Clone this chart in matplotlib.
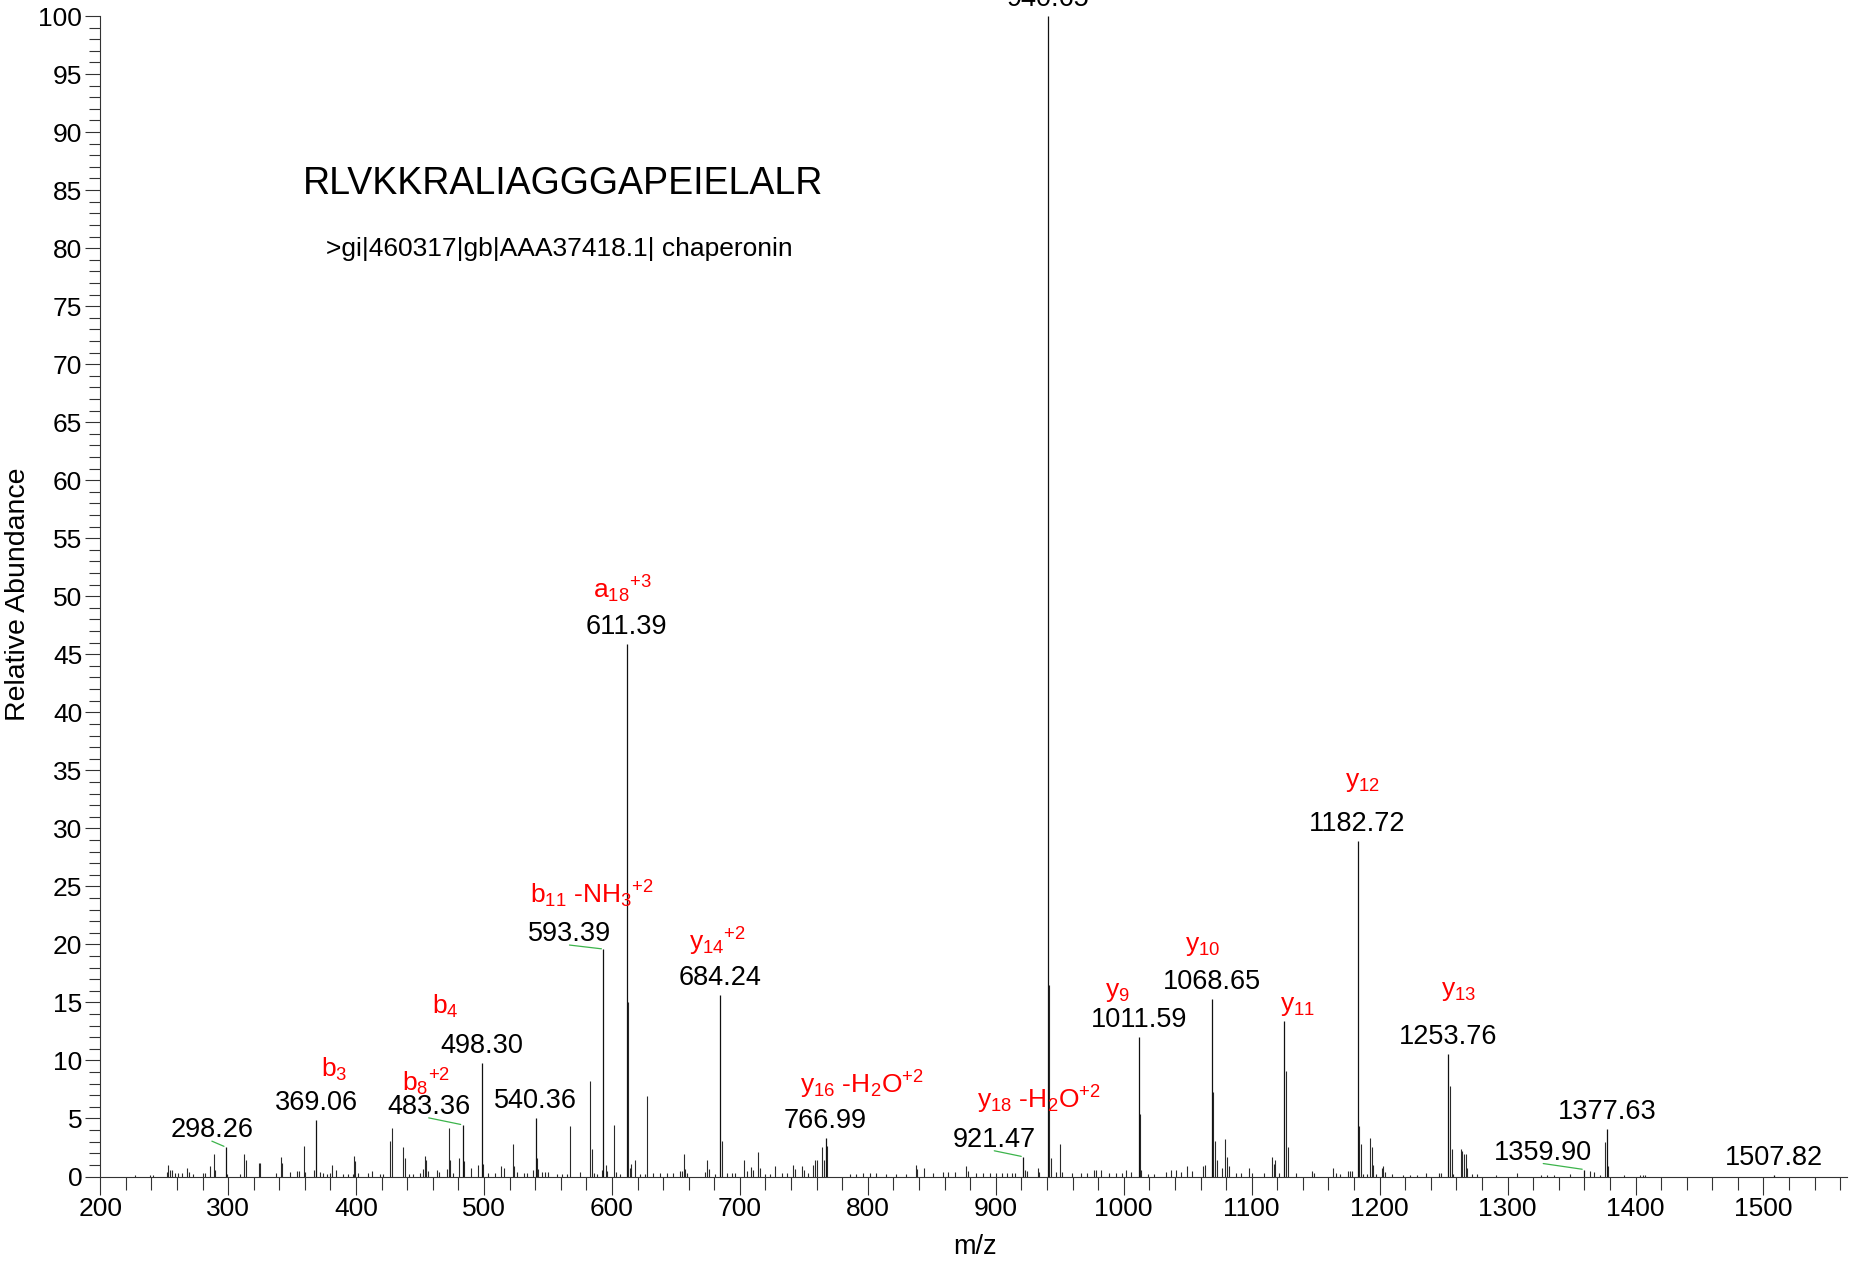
import matplotlib
matplotlib.use('Agg')
import matplotlib.pyplot as plt
from matplotlib.ticker import MultipleLocator

plt.rcParams['font.family'] = ['Liberation Sans', 'DejaVu Sans']
plt.rcParams['mathtext.fontset'] = 'custom'
plt.rcParams['mathtext.rm'] = 'Liberation Sans'
plt.rcParams['mathtext.it'] = 'Liberation Sans:italic'
plt.rcParams['mathtext.bf'] = 'Liberation Sans:bold'
plt.rcParams['mathtext.default'] = 'regular'

sequence = 'RLVKKRALIAGGGAPEIELALR'
protein = '>gi|460317|gb|AAA37418.1| chaperonin'

# annotated peaks (m/z, relative abundance)
peak_mz = [298.26, 369.06, 483.36, 498.30, 540.36, 593.39, 611.39, 684.24,
           766.99, 921.47, 940.65, 1011.59, 1068.65, 1125.00, 1182.72,
           1253.76, 1359.90, 1377.63, 1507.82]
peak_int = [2.53, 4.91, 4.45, 9.8, 5.06, 19.6, 45.9, 15.6,
            3.29, 1.7, 100.0, 12.05, 15.3, 13.4, 28.9,
            10.6, 0.6, 4.07, 0.12]
# y11 peak carries only the ion name
no_mz_label = [1125.00]

# the rest of the centroided spectrum
other_mz = [227.3, 239.0, 241.6, 252.1, 253.3, 254.6, 255.9, 258.5, 261.1, 263.7,
            268.2, 269.8, 272.9, 280.7, 282.0, 285.9, 289.0, 290.1, 299.5, 309.3,
            312.7, 314.0, 324.0, 325.3, 337.5, 341.1, 342.4, 348.4, 353.6, 355.4,
            359.1, 360.4, 366.9, 371.9, 374.5, 377.1, 379.5, 381.5, 384.1, 389.6,
            393.5, 397.4, 398.5, 399.5, 401.9, 409.6, 412.2, 418.8, 421.4, 426.6,
            428.1, 436.5, 438.6, 441.7, 444.8, 450.0, 452.1, 453.6, 454.7, 456.5,
            463.0, 465.1, 470.8, 472.7, 473.7, 476.1, 480.5, 484.7, 489.9, 495.1,
            499.3, 503.4, 508.6, 513.1, 515.7, 522.4, 523.7, 525.6, 531.3, 533.4,
            538.6, 541.2, 542.5, 545.1, 547.7, 550.3, 556.8, 560.7, 564.6, 567.2,
            575.0, 583.1, 584.6, 586.2, 588.5, 592.4, 595.0, 596.3, 601.8, 603.1,
            606.2, 612.6, 614.1, 615.1, 618.3, 621.9, 625.8, 627.6, 632.3, 637.5,
            642.7, 647.9, 653.1, 654.4, 656.0, 657.0, 658.8, 672.8, 674.6, 675.6,
            680.6, 686.0, 689.7, 693.6, 696.2, 703.5, 705.3, 708.7, 710.5, 714.4,
            715.7, 719.6, 723.5, 727.4, 732.6, 736.5, 741.2, 743.0, 748.2, 750.0,
            753.4, 757.3, 758.6, 759.9, 764.1, 765.6, 768.2, 785.9, 791.1, 796.3,
            801.5, 806.7, 814.5, 822.3, 830.2, 837.5, 838.5, 843.7, 851.0, 858.8,
            862.7, 867.9, 877.0, 878.6, 884.8, 890.0, 895.2, 900.5, 904.6, 908.5,
            912.4, 915.0, 922.8, 924.1, 932.7, 934.0, 941.7, 942.9, 946.9, 950.0,
            951.6, 959.9, 966.4, 971.6, 977.1, 978.6, 982.0, 988.5, 993.7, 998.9,
            1001.5, 1005.9, 1012.6, 1013.6, 1018.6, 1023.8, 1032.9, 1036.8, 1040.7, 1044.6,
            1049.8, 1053.7, 1062.1, 1063.4, 1069.7, 1071.0, 1072.6, 1076.5, 1079.4, 1080.7,
            1082.0, 1087.4, 1091.3, 1097.9, 1100.5, 1109.6, 1115.8, 1117.1, 1118.4, 1121.3,
            1126.6, 1128.3, 1134.3, 1146.9, 1148.7, 1163.9, 1165.9, 1169.1, 1175.6, 1176.9,
            1178.2, 1184.2, 1185.5, 1187.3, 1189.9, 1192.3, 1193.8, 1195.1, 1197.2, 1201.7,
            1203.0, 1204.3, 1209.5, 1218.6, 1223.8, 1229.0, 1236.3, 1246.0, 1247.8, 1255.1,
            1256.4, 1257.7, 1263.4, 1264.7, 1266.0, 1267.3, 1268.6, 1272.5, 1276.4, 1290.7,
            1307.1, 1325.9, 1331.1, 1336.3, 1348.8, 1364.6, 1367.2, 1372.2, 1376.1, 1378.8,
            1391.0, 1403.5, 1405.6, 1407.4]
other_int = [0.15, 0.15, 0.15, 0.4, 1.03, 0.6, 0.55, 0.3, 0.3, 0.3,
             0.75, 0.4, 0.25, 0.3, 0.3, 0.89, 1.95, 0.6, 0.2, 0.25,
             1.95, 1.38, 1.2, 1.2, 0.3, 1.67, 1.2, 0.4, 0.45, 0.45,
             2.67, 0.4, 0.6, 0.4, 0.3, 0.25, 0.3, 1.03, 0.6, 0.25,
             0.25, 0.25, 1.81, 1.35, 0.3, 0.3, 0.45, 0.2, 0.2, 3.1,
             4.17, 2.53, 1.6, 0.25, 0.2, 0.3, 0.66, 1.81, 1.38, 0.5,
             0.6, 0.35, 0.66, 4.17, 1.43, 0.3, 1.58, 1.3, 0.7, 1.03,
             1.12, 0.3, 0.3, 0.9, 0.75, 2.82, 0.9, 0.35, 0.3, 0.3,
             0.55, 1.58, 0.66, 0.35, 0.35, 0.35, 0.25, 0.25, 0.25, 4.31,
             0.35, 8.19, 2.4, 0.3, 0.2, 0.55, 1.03, 0.45, 4.45, 0.35,
             0.2, 15.0, 0.75, 1.1, 1.38, 0.25, 0.25, 6.98, 0.3, 0.3,
             0.3, 0.3, 0.45, 0.5, 1.95, 0.66, 0.3, 0.35, 1.38, 0.66,
             0.2, 3.1, 0.3, 0.3, 0.3, 1.38, 0.45, 0.8, 0.55, 2.07,
             0.7, 0.25, 0.25, 0.9, 0.3, 0.3, 1.03, 0.66, 0.9, 0.55,
             0.3, 1.03, 1.45, 1.38, 2.53, 1.45, 2.67, 0.25, 0.25, 0.3,
             0.3, 0.3, 0.25, 0.25, 0.25, 1.03, 0.66, 0.7, 0.3, 0.4,
             0.4, 0.4, 0.9, 0.45, 0.3, 0.3, 0.3, 0.3, 0.3, 0.3,
             0.3, 0.3, 0.55, 0.45, 0.75, 0.35, 16.5, 1.58, 0.35, 2.82,
             0.35, 0.3, 0.3, 0.3, 0.55, 0.55, 0.55, 0.3, 0.3, 0.3,
             0.55, 0.4, 5.4, 0.55, 0.25, 0.25, 0.4, 0.55, 0.55, 0.4,
             0.9, 0.45, 0.9, 1.03, 7.3, 3.1, 1.38, 0.75, 3.25, 1.67,
             0.9, 0.3, 0.3, 0.75, 0.3, 0.3, 1.67, 1.06, 1.38, 0.3,
             9.07, 2.53, 0.3, 0.45, 0.3, 0.75, 0.3, 0.25, 0.45, 0.45,
             0.45, 4.31, 2.82, 0.2, 0.2, 3.33, 2.53, 1.03, 0.25, 0.75,
             0.9, 0.35, 0.2, 0.15, 0.15, 0.15, 0.3, 0.3, 0.3, 7.76,
             2.4, 0.2, 2.4, 2.24, 1.95, 1.95, 0.75, 0.2, 0.2, 0.15,
             0.3, 0.1, 0.1, 0.1, 0.25, 0.45, 0.4, 0.1, 2.96, 0.9,
             0.1, 0.12, 0.12, 0.12]

# fragment ion names, with the peak they sit on
ion_mz = [369.06, 483.36, 498.30, 593.39, 611.39, 684.24, 766.99,
          921.47, 1011.59, 1068.65, 1125.00, 1182.72, 1253.76]
ion_names = [r'b$_3$', r'b$_8{}^{+2}$', r'b$_4$', r'b$_{11}$ -NH$_3{}^{+2}$',
             r'a$_{18}{}^{+3}$', r'y$_{14}{}^{+2}$', r'y$_{16}$ -H$_2$O$^{+2}$',
             r'y$_{18}$ -H$_2$O$^{+2}$', r'y$_9$', r'y$_{10}$', r'y$_{11}$',
             r'y$_{12}$', r'y$_{13}$']

# layout: pixel offsets of the text centres from the peak tops
mz_offset = {298.26: (-14, 17), 483.36: (-34, 18), 593.39: (-34, 15),
             921.47: (-29, 17), 1359.90: (-41, 17)}
ion_offset = {369.06: (18, 50), 483.36: (-37, 43), 498.30: (-36, 56),
              593.39: (-12, 55), 611.39: (-4, 55), 684.24: (-2, 54),
              766.99: (36, 53), 921.47: (16, 57), 1011.59: (-21, 45),
              1068.65: (-9, 53), 1125.00: (14, 15), 1182.72: (5, 59),
              1253.76: (10, 63)}


def main():
    fig = plt.figure(figsize=(18.58, 12.61), dpi=100)
    ax = fig.add_axes([0.0539, 0.0670, 0.9400, 0.9203])

    ax.vlines(other_mz, 0, other_int, color='#2a2a2a', lw=0.8)
    ax.vlines(peak_mz, 0, peak_int, color='#111111', lw=0.9)

    # m/z labels, with green leaders where the label is pushed aside
    for mz, inten in zip(peak_mz, peak_int):
        if mz in no_mz_label:
            continue
        dx, dy = mz_offset.get(mz, (0, 17))
        ax.annotate(f'{mz:.2f}', xy=(mz, inten), xytext=(dx, dy),
                    textcoords='offset pixels', ha='center', va='center',
                    fontsize=19.5, color='black', annotation_clip=False)
        if mz in mz_offset:
            ax.annotate('', xy=(mz, inten), xytext=(dx, dy - 11),
                        textcoords='offset pixels',
                        arrowprops=dict(arrowstyle='-', color='#3cb44b', lw=0.9,
                                        shrinkA=0, shrinkB=1.5))

    inten_of = dict(zip(peak_mz, peak_int))
    for mz, name in zip(ion_mz, ion_names):
        dx, dy = ion_offset[mz]
        ax.annotate(name, xy=(mz, inten_of[mz]), xytext=(dx, dy),
                    textcoords='offset pixels', ha='center', va='center',
                    fontsize=19, color='#ff0000', annotation_clip=False)

    ax.set_xlim(200, 1565)
    ax.set_ylim(0, 100)
    for side in ['top', 'right']:
        ax.spines[side].set_visible(False)
    for side in ['left', 'bottom']:
        ax.spines[side].set_linewidth(0.8)
        ax.spines[side].set_color('#333333')

    ax.xaxis.set_major_locator(MultipleLocator(100))
    ax.xaxis.set_minor_locator(MultipleLocator(20))
    ax.yaxis.set_major_locator(MultipleLocator(5))
    ax.yaxis.set_minor_locator(MultipleLocator(1))
    ax.tick_params(axis='x', which='major', length=12.7, width=0.8, pad=2,
                   labelsize=19, color='#333333')
    ax.tick_params(axis='x', which='minor', length=9.6, width=0.8, color='#333333')
    ax.tick_params(axis='y', which='major', length=10.8, width=0.8, pad=2,
                   labelsize=19, color='#333333')
    ax.tick_params(axis='y', which='minor', length=7.9, width=0.8, color='#333333')

    fig.text(0.0097, 0.529, 'Relative Abundance', rotation=90,
             ha='center', va='center', fontsize=20.5)
    fig.text(0.525, 0.011, 'm/z', ha='center', va='center', fontsize=19.5)

    fig.text(0.303, 0.854, sequence, ha='center', va='center', fontsize=27)
    fig.text(0.301, 0.8025, protein, ha='center', va='center', fontsize=19)

    fig.savefig('out.png', dpi=100)


if __name__ == '__main__':
    main()
